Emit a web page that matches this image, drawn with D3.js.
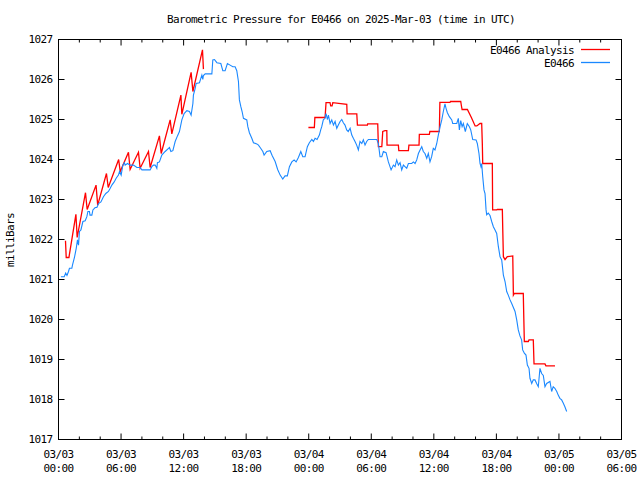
<!DOCTYPE html>
<html><head><meta charset="utf-8">
<script src="https://cdn.jsdelivr.net/npm/d3@7"></script>
<style>
body{margin:0;background:#fff}
text{font-family:"DejaVu Sans Mono",monospace;font-size:11px;letter-spacing:-0.62px;fill:#000}
</style>
</head><body>
<svg id="c" width="640" height="480"></svg>
<script>
// ---------- data ----------
const titleText = "Barometric Pressure for E0466 on 2025-Mar-03 (time in UTC)";
const yLabelText = "milliBars";
const seriesNames = ["E0466 Analysis", "E0466"];
const seriesColors = ["#ff0000", "#1a88ff"];
const startTime = "2025-03-03T00:00:00Z";
const spanHours = 54;
const yDomain = [1017, 1027];
const yTickValues = [1017, 1018, 1019, 1020, 1021, 1022, 1023, 1024, 1025, 1026, 1027];
const xMajorHours = [0, 6, 12, 18, 24, 30, 36, 42, 48, 54];
const xMinorHours = [2, 4, 8, 10, 14, 16, 20, 22, 26, 28, 32, 34, 38, 40, 44, 46, 50, 52];

// E0466 observed (hours after 03/03 00:00 UTC, mb)
const obsHours = [0.23,0.55,0.69,0.81,0.96,1.05,1.28,1.34,1.53,1.70,
1.82,1.92,2.01,2.15,2.34,2.56,2.72,2.82,2.97,3.02,
3.20,3.30,3.52,3.68,3.84,4.07,4.31,4.54,4.79,4.96,
5.12,5.34,5.53,5.75,5.85,6.01,6.17,6.33,6.39,6.62,
6.87,7.19,7.52,7.83,8.00,8.31,8.79,8.95,9.11,9.27,
9.43,9.49,9.68,9.91,10.23,10.55,10.64,10.78,10.97,11.19,
11.41,11.60,11.83,12.05,12.31,12.56,12.72,12.89,12.94,13.11,
13.20,13.52,13.75,13.84,13.90,14.07,14.71,14.80,14.96,15.19,
15.57,15.76,15.98,16.20,16.46,16.72,16.94,17.10,17.26,17.35,
17.49,17.61,17.74,18.06,18.16,18.31,18.54,18.70,19.02,19.18,
19.34,19.60,19.72,19.98,20.30,20.49,20.78,21.02,21.26,21.51,
21.73,21.95,22.15,22.38,22.60,22.79,23.01,23.24,23.43,23.65,
23.87,24.06,24.30,24.45,24.61,24.80,25.02,25.15,25.25,25.40,
25.56,25.66,25.79,25.89,26.05,26.21,26.37,26.53,26.69,26.84,
27.01,27.17,27.32,27.48,27.64,27.79,27.97,28.13,28.28,28.44,
28.60,28.76,28.92,29.09,29.24,29.40,29.56,29.72,30.53,30.68,
30.84,31.01,31.16,31.42,31.64,31.90,32.12,32.28,32.44,32.60,
32.76,32.92,33.08,33.40,33.56,33.88,34.04,34.20,34.36,34.52,
34.68,34.84,34.99,35.15,35.32,35.47,35.63,35.79,35.95,36.11,
36.28,36.43,36.60,36.76,36.91,37.07,37.17,37.30,37.49,37.72,
37.81,38.20,38.35,38.45,38.58,38.71,38.83,39.02,39.21,39.41,
39.54,39.73,40.05,40.17,40.33,40.43,40.52,40.59,40.69,40.81,
40.91,41.01,41.07,41.22,41.39,41.55,41.71,41.87,42.03,42.19,
42.35,42.51,42.67,42.83,42.99,43.14,43.31,43.47,43.79,43.95,
44.10,44.26,44.42,44.52,44.68,44.84,44.97,45.13,45.22,45.39,
45.54,45.70,45.86,46.02,46.18,46.34,46.50,46.66,46.82,47.14,
47.30,47.45,47.61,47.79,47.93,48.09,48.26,48.41,48.57,48.74];
const obsMb = [1021.07,1021.07,1021.16,1021.10,1021.20,1021.28,1021.28,1021.36,1021.55,1021.78,
1021.99,1021.86,1022.20,1022.24,1022.45,1022.47,1022.57,1022.70,1022.70,1022.61,
1022.61,1022.74,1022.80,1022.80,1022.90,1022.94,1023.07,1023.15,1023.20,1023.28,
1023.36,1023.44,1023.53,1023.61,1023.70,1023.61,1023.86,1023.92,1023.86,1023.90,
1023.86,1023.86,1023.80,1023.80,1023.74,1023.74,1023.74,1023.82,1023.86,1023.86,
1023.78,1023.92,1023.94,1024.11,1024.20,1024.28,1024.30,1024.20,1024.22,1024.45,
1024.59,1024.70,1024.99,1025.15,1025.22,1025.20,1025.11,1025.40,1025.61,1025.78,
1025.90,1025.92,1026.11,1026.00,1026.10,1026.14,1026.14,1026.49,1026.50,1026.42,
1026.40,1026.22,1026.22,1026.40,1026.36,1026.32,1026.32,1026.22,1025.95,1025.49,
1025.32,1025.20,1025.03,1024.99,1024.82,1024.67,1024.53,1024.42,1024.39,1024.36,
1024.30,1024.20,1024.11,1024.20,1024.22,1024.10,1023.95,1023.75,1023.61,1023.51,
1023.59,1023.59,1023.82,1023.94,1023.99,1023.94,1024.05,1024.20,1024.07,1024.07,
1024.32,1024.42,1024.50,1024.45,1024.53,1024.50,1024.61,1024.74,1024.82,1024.99,
1025.03,1025.15,1025.00,1025.11,1024.90,1024.99,1024.86,1024.95,1024.78,1024.86,
1024.95,1025.00,1024.92,1024.86,1024.74,1024.70,1024.78,1024.61,1024.53,1024.45,
1024.36,1024.24,1024.45,1024.40,1024.49,1024.36,1024.45,1024.50,1024.50,1024.40,
1024.07,1024.07,1024.20,1024.17,1023.94,1023.74,1023.86,1023.82,1023.99,1023.86,
1023.92,1023.74,1023.86,1023.78,1023.90,1023.90,1023.94,1023.90,1023.99,1024.15,
1024.24,1024.32,1024.20,1024.15,1024.03,1024.15,1023.94,1024.07,1024.28,1024.24,
1024.40,1024.61,1024.82,1024.99,1025.20,1025.39,1025.28,1025.17,1025.07,1024.99,
1024.90,1024.90,1025.03,1024.74,1024.97,1024.82,1024.90,1024.70,1024.90,1024.82,
1024.74,1024.50,1024.49,1024.40,1024.15,1023.90,1023.82,1023.90,1023.57,1023.24,
1023.15,1022.74,1022.62,1022.66,1022.60,1022.45,1022.32,1022.24,1022.15,1021.82,
1021.57,1021.49,1021.11,1020.95,1020.70,1020.61,1020.49,1020.40,1020.20,1019.99,
1019.74,1019.59,1019.49,1019.24,1019.16,1019.11,1018.86,1018.78,1018.53,1018.40,
1018.49,1018.49,1018.40,1018.32,1018.78,1018.65,1018.60,1018.32,1018.40,1018.45,
1018.20,1018.32,1018.28,1018.20,1018.11,1018.03,1017.99,1017.91,1017.82,1017.70];

// E0466 Analysis (null = no data)
const anaHours = [0.67,0.74,1.00,1.67,1.79,2.59,2.75,3.60,3.76,4.60,
4.77,5.77,5.92,6.71,6.87,7.67,7.83,8.63,8.79,9.68,
9.85,10.71,10.87,11.74,11.83,12.72,12.89,13.81,13.90,18.00,
23.97,24.54,24.59,25.57,25.66,26.04,26.11,26.24,26.31,27.65,
27.68,28.61,28.67,29.63,29.65,30.62,30.68,31.01,31.10,31.32,
31.49,31.51,32.60,32.64,33.56,33.61,34.58,34.61,35.57,35.62,
36.53,36.58,37.55,37.60,38.58,38.64,38.71,39.22,39.60,39.96,
40.12,40.43,40.59,40.65,40.69,41.61,41.64,42.03,42.09,42.57,
42.62,42.67,42.83,43.05,43.57,43.60,43.63,43.72,44.58,44.63,
44.68,45.06,45.13,45.54,45.61,46.66,46.75,47.62];
const anaMb = [1021.97,1021.55,1021.55,1022.63,1022.05,1023.17,1022.75,1023.36,1022.86,1023.65,
1023.30,1024.00,1023.70,1024.18,1023.75,1024.18,1023.78,1024.20,1023.80,1024.59,
1024.15,1024.99,1024.64,1025.61,1025.13,1026.18,1025.70,1026.74,1026.26,null,
1024.80,1024.80,1025.05,1025.05,1025.42,1025.42,1025.34,1025.34,1025.42,1025.38,
1025.14,1025.14,1024.86,1024.86,1024.89,1024.89,1024.32,1024.32,1024.70,1024.72,
1024.72,1024.36,1024.36,1024.22,1024.22,1024.36,1024.36,1024.63,1024.63,1024.70,
1024.70,1025.43,1025.43,1025.45,1025.45,1025.35,1025.25,1025.25,1025.05,1024.84,
1024.84,1024.90,1024.90,1024.40,1023.90,1023.90,1022.74,1022.74,1022.75,1022.75,
1022.15,1021.57,1021.50,1021.57,1021.59,1021.11,1020.61,1020.65,1020.65,1020.03,
1019.45,1019.45,1019.49,1019.49,1018.89,1018.89,1018.84,1018.84];

// ---------- chart ----------
const svg = d3.select("#c");
svg.append("rect").attr("width", 640).attr("height", 480).attr("fill", "#fff");

const t0 = new Date(startTime);
const hrs = h => new Date(t0.getTime() + h * 3600000);
const L = 58.5, R = 621.5, T = 39.5, B = 439.5;

const x = d3.scaleUtc().domain([t0, hrs(spanHours)]).range([L, R]);
const y = d3.scaleLinear().domain(yDomain).range([B, T]);

function strip(g) { g.select(".domain").remove(); g.selectAll("line").attr("stroke", "#000"); }

// minor x ticks (bottom & top)
svg.append("g").attr("transform", `translate(0,${B})`)
  .call(d3.axisBottom(x).offset(0).tickValues(xMinorHours.map(hrs)).tickSize(-3).tickFormat(""))
  .call(strip);
svg.append("g").attr("transform", `translate(0,${T})`)
  .call(d3.axisTop(x).offset(0).tickValues(xMinorHours.map(hrs)).tickSize(-3).tickFormat(""))
  .call(strip);

// major x ticks with two-line labels
const fDate = d3.utcFormat("%m/%d"), fTime = d3.utcFormat("%H:%M");
const gx = svg.append("g").attr("transform", `translate(0,${B})`)
  .call(d3.axisBottom(x).offset(0).tickValues(xMajorHours.map(hrs)).tickSize(-6).tickPadding(11).tickFormat(fDate))
  .call(strip);
gx.attr("font-family", null).attr("font-size", null);
gx.selectAll(".tick text").each(function (d) {
  const t = d3.select(this);
  t.text(null);
  t.append("tspan").attr("x", 0).text(fDate(d));
  t.append("tspan").attr("x", 0).attr("dy", 14).text(fTime(d));
});
svg.append("g").attr("transform", `translate(0,${T})`)
  .call(d3.axisTop(x).offset(0).tickValues(xMajorHours.map(hrs)).tickSize(-6).tickFormat(""))
  .call(strip);

// y ticks
const gy = svg.append("g").attr("transform", `translate(${L},0)`)
  .call(d3.axisLeft(y).offset(0).tickValues(yTickValues).tickSize(-6).tickPadding(6).tickFormat(d3.format("d")))
  .call(strip);
gy.attr("font-family", null).attr("font-size", null);
svg.append("g").attr("transform", `translate(${R},0)`)
  .call(d3.axisRight(y).offset(0).tickValues(yTickValues).tickSize(-6).tickFormat(""))
  .call(strip);

// frame
svg.append("rect").attr("x", L).attr("y", T).attr("width", R - L).attr("height", B - T)
  .attr("fill", "none").attr("stroke", "#000").attr("stroke-width", 1);

// series
const ana = anaHours.map((h, i) => ({ t: hrs(h), v: anaMb[i] }));
const obs = obsHours.map((h, i) => ({ t: hrs(h), v: obsMb[i] }));
const line = d3.line().defined(d => d.v != null).x(d => x(d.t)).y(d => y(d.v));
svg.append("path").datum(ana).attr("d", line).attr("fill", "none")
  .attr("stroke", seriesColors[0]).attr("stroke-width", 1.3).attr("stroke-linejoin", "miter");
svg.append("path").datum(obs).attr("d", line).attr("fill", "none")
  .attr("stroke", seriesColors[1]).attr("stroke-width", 1.1).attr("stroke-linejoin", "miter");

// legend
const legY = [50, 63];
seriesNames.forEach((n, i) => {
  svg.append("text").attr("x", 574).attr("y", legY[i]).attr("dy", "0.35em")
    .attr("text-anchor", "end").text(n);
  svg.append("line").attr("x1", 581).attr("x2", 610).attr("y1", legY[i] - 0.5).attr("y2", legY[i] - 0.5)
    .attr("stroke", seriesColors[i]).attr("stroke-width", 1.3);
});

// title & axis label
svg.append("text").attr("x", 341).attr("y", 19).attr("dy", "0.35em").attr("text-anchor", "middle").text(titleText);
svg.append("text").attr("transform", "translate(10,240) rotate(-90)").attr("dy", "0.35em")
  .attr("text-anchor", "middle").text(yLabelText);
</script>
</body></html>
